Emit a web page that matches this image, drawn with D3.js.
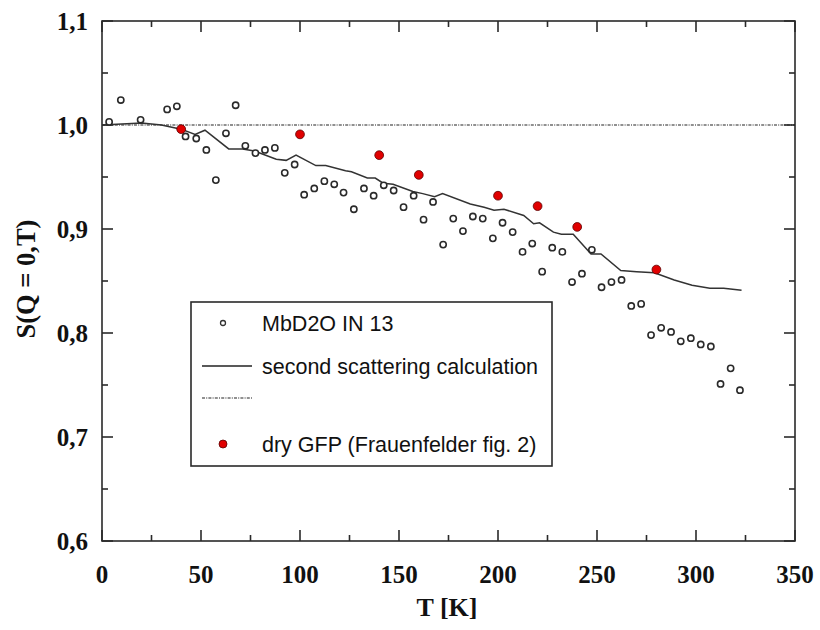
<!DOCTYPE html>
<html>
<head>
<meta charset="utf-8">
<script src="https://cdn.jsdelivr.net/npm/d3@7"></script>
<style>
  html, body { margin: 0; padding: 0; background: #fff; }
  svg { display: block; }
</style>
</head>
<body>
<div id="chart"></div>
<script>
// ---- data ----
const mbT = [3.6, 9.5, 19.5, 32.9, 37.8, 42.2, 47.6, 52.7, 57.5, 62.6, 67.5, 72.4, 77.5, 82.3, 87.3, 92.3, 97.3, 102.1, 107.2, 112.3, 117.3, 122.0, 127.2, 132.3, 137.2, 142.3, 147.3, 152.3, 157.4, 162.4, 167.2, 172.3, 177.4, 182.3, 187.3, 192.3, 197.4, 202.3, 207.4, 212.4, 217.3, 222.3, 227.4, 232.5, 237.4, 242.4, 247.4, 252.3, 257.3, 262.4, 267.3, 272.3, 277.3, 282.4, 287.4, 292.3, 297.4, 302.4, 307.5, 312.4, 317.5, 322.2];
const mbS = [1.003, 1.024, 1.005, 1.015, 1.018, 0.989, 0.987, 0.976, 0.947, 0.992, 1.019, 0.980, 0.973, 0.976, 0.978, 0.954, 0.962, 0.933, 0.939, 0.946, 0.943, 0.935, 0.919, 0.939, 0.932, 0.942, 0.937, 0.921, 0.932, 0.909, 0.926, 0.885, 0.910, 0.898, 0.912, 0.910, 0.891, 0.906, 0.897, 0.878, 0.886, 0.859, 0.882, 0.878, 0.849, 0.857, 0.880, 0.844, 0.849, 0.851, 0.826, 0.828, 0.798, 0.805, 0.801, 0.792, 0.795, 0.789, 0.787, 0.751, 0.766, 0.745];

const calcT = [0, 20, 30, 40, 47, 52, 64, 71, 77, 88, 93, 98, 108, 113, 123, 126, 134, 138, 142, 147, 157, 162, 168, 172, 186, 193, 198, 203, 213, 218, 221, 228, 232, 238, 247, 252, 262, 270, 279, 289, 298, 307, 314, 323];
const calcS = [1.000, 1.002, 1.000, 0.996, 0.991, 0.995, 0.977, 0.977, 0.975, 0.967, 0.966, 0.971, 0.961, 0.961, 0.956, 0.955, 0.949, 0.949, 0.944, 0.943, 0.936, 0.934, 0.931, 0.934, 0.924, 0.921, 0.918, 0.919, 0.913, 0.905, 0.906, 0.897, 0.895, 0.895, 0.876, 0.876, 0.860, 0.859, 0.858, 0.851, 0.846, 0.843, 0.843, 0.841];

const gfpT = [40, 100, 140, 160, 200, 220, 240, 280];
const gfpS = [0.996, 0.991, 0.971, 0.952, 0.932, 0.922, 0.902, 0.861];

const refT = [0, 350];
const refS = [1.0, 1.0];

const xTicks = [0, 50, 100, 150, 200, 250, 300, 350];
const yTicks = [0.6, 0.7, 0.8, 0.9, 1.0, 1.1];
const xMinor = [25, 75, 125, 175, 225, 275, 325];
const yMinor = [0.65, 0.75, 0.85, 0.95, 1.05];

const legendLabels = ["MbD2O IN 13", "second scattering calculation", "dry GFP (Frauenfelder fig. 2)"];

// ---- layout ----
const W = 820, H = 630;
const L = 102, R = 795, T = 21, B = 541;

const svg = d3.select("#chart").append("svg").attr("width", W).attr("height", H);

const x = d3.scaleLinear().domain([0, 350]).range([L, R]);
const y = d3.scaleLinear().domain([0.6, 1.1]).range([B, T]);

const axisColor = "#2a2a2a";
const fmt = d => d3.format(".1f")(d).replace(".", ",");

// frame
svg.append("rect").attr("x", L).attr("y", T).attr("width", R - L).attr("height", B - T)
  .attr("fill", "none").attr("stroke", axisColor).attr("stroke-width", 1.6);

// ticks (inward) on all four sides
const g = svg.append("g").attr("stroke", axisColor).attr("stroke-width", 1.6);
xTicks.forEach(v => {
  g.append("line").attr("x1", x(v)).attr("x2", x(v)).attr("y1", B).attr("y2", B - 11);
  g.append("line").attr("x1", x(v)).attr("x2", x(v)).attr("y1", T).attr("y2", T + 11);
});
xMinor.forEach(v => {
  g.append("line").attr("x1", x(v)).attr("x2", x(v)).attr("y1", B).attr("y2", B - 6);
  g.append("line").attr("x1", x(v)).attr("x2", x(v)).attr("y1", T).attr("y2", T + 6);
});
yTicks.forEach(v => {
  g.append("line").attr("y1", y(v)).attr("y2", y(v)).attr("x1", L).attr("x2", L + 11);
  g.append("line").attr("y1", y(v)).attr("y2", y(v)).attr("x1", R).attr("x2", R - 11);
});
yMinor.forEach(v => {
  g.append("line").attr("y1", y(v)).attr("y2", y(v)).attr("x1", L).attr("x2", L + 6);
  g.append("line").attr("y1", y(v)).attr("y2", y(v)).attr("x1", R).attr("x2", R - 6);
});

// tick labels
const serif = "'Liberation Serif', 'Times New Roman', serif";
svg.append("g").selectAll("text").data(xTicks).join("text")
  .attr("x", d => x(d)).attr("y", 583)
  .attr("text-anchor", "middle")
  .attr("font-family", serif).attr("font-weight", "bold").attr("font-size", 25)
  .attr("fill", "#111")
  .text(d => d);

svg.append("g").selectAll("text").data(yTicks).join("text")
  .attr("x", 88).attr("y", d => y(d)).attr("dy", "0.35em")
  .attr("text-anchor", "end")
  .attr("font-family", serif).attr("font-weight", "bold").attr("font-size", 25)
  .attr("fill", "#111")
  .text(d => fmt(d));

// axis titles
svg.append("text").attr("x", 447).attr("y", 616).attr("text-anchor", "middle")
  .attr("font-family", serif).attr("font-weight", "bold").attr("font-size", 26)
  .attr("fill", "#111").text("T [K]");
svg.append("text").attr("transform", "translate(35,279) rotate(-90)").attr("text-anchor", "middle")
  .attr("font-family", serif).attr("font-weight", "bold").attr("font-size", 26.5)
  .attr("fill", "#111").text("S(Q = 0,T)");

// reference dotted line
const line = d3.line().x(d => x(d[0])).y(d => y(d[1]));
svg.append("path").datum(d3.zip(refT, refS)).attr("d", line)
  .attr("fill", "none").attr("stroke", "#222").attr("stroke-width", 1.2)
  .attr("stroke-dasharray", "3,1.2,1,1.2");

// calculation line
svg.append("path").datum(d3.zip(calcT, calcS)).attr("d", line)
  .attr("fill", "none").attr("stroke", "#333").attr("stroke-width", 1.5);

// MbD2O open circles
svg.append("g").selectAll("circle").data(d3.zip(mbT, mbS)).join("circle")
  .attr("cx", d => x(d[0])).attr("cy", d => y(d[1])).attr("r", 3.1)
  .attr("fill", "#fff").attr("stroke", "#2a2a2a").attr("stroke-width", 1.6);

// GFP red dots
svg.append("g").selectAll("circle").data(d3.zip(gfpT, gfpS)).join("circle")
  .attr("cx", d => x(d[0])).attr("cy", d => y(d[1])).attr("r", 4.4)
  .attr("fill", "#e00000").attr("stroke", "#5a0000").attr("stroke-width", 0.8);

// legend
const lg = svg.append("g");
lg.append("rect").attr("x", 191).attr("y", 302).attr("width", 361).attr("height", 164)
  .attr("fill", "#fff").attr("stroke", axisColor).attr("stroke-width", 1.6);
const sans = "'Liberation Sans', Arial, sans-serif";
lg.append("circle").attr("cx", 223).attr("cy", 323).attr("r", 2.5)
  .attr("fill", "#fff").attr("stroke", "#333").attr("stroke-width", 1.3);
lg.append("line").attr("x1", 202).attr("x2", 252).attr("y1", 366).attr("y2", 366)
  .attr("stroke", "#222").attr("stroke-width", 1.5);
lg.append("line").attr("x1", 202).attr("x2", 252).attr("y1", 398).attr("y2", 398)
  .attr("stroke", "#222").attr("stroke-width", 1.2).attr("stroke-dasharray", "3,1.2,1,1.2");
lg.append("circle").attr("cx", 223).attr("cy", 444).attr("r", 4)
  .attr("fill", "#e00000").attr("stroke", "#5a0000").attr("stroke-width", 0.8);
const ly = [323, 366, 444];
lg.selectAll("text.lt").data(legendLabels).join("text").attr("class", "lt")
  .attr("x", 262).attr("y", (d, i) => ly[i]).attr("dy", "0.35em")
  .attr("font-family", sans).attr("font-size", 21.5).attr("fill", "#111")
  .text(d => d);
</script>
</body>
</html>
